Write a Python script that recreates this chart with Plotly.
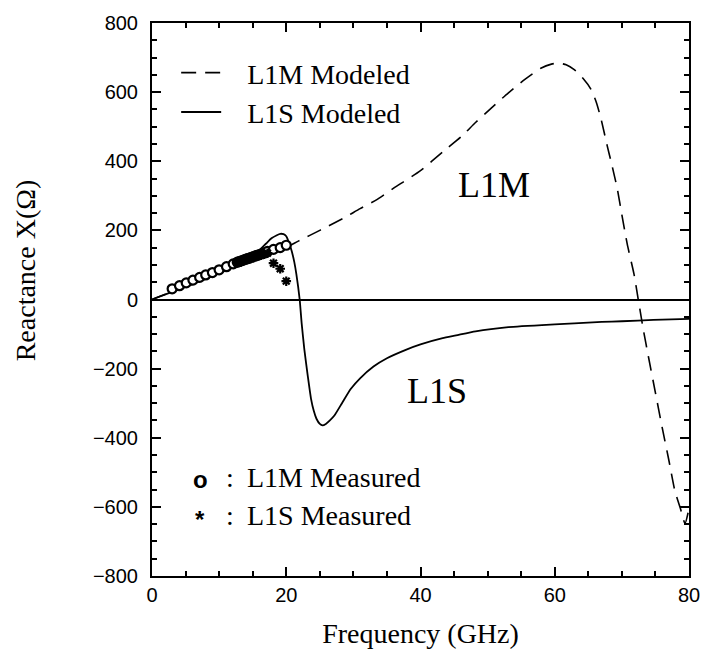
import plotly.graph_objects as go

# ---- data ----
l1m_model_f = [0, 2, 4, 6, 8, 10, 12, 14, 16, 18, 20, 21.8, 25, 28.6, 31, 33.5, 36, 40, 43.3, 46,
               48.2, 50.5, 53.1, 55.5, 58, 59.5, 60.5, 61.7, 62.9, 64.2, 65.4, 66.2, 66.9, 67.8,
               68.5, 69.3, 70.0, 70.8, 71.8, 72.5, 73.2, 74, 75, 76, 77, 77.9, 78.7, 79.4, 80]
l1m_model_x = [0, 15, 31, 46, 62, 78, 93, 108, 122, 137, 151, 169, 200, 236, 263, 289, 322, 373, 427, 470,
               512, 553, 598, 636, 670, 681, 684, 679, 665, 640, 608, 570, 522, 446,
               390, 322, 245, 160, 74, -7, -88, -170, -270, -370, -465, -554, -603, -648, -605]

l1s_model_f = [0, 3, 6, 9, 12, 14, 15, 16, 17, 17.8, 18.6, 19.1, 19.6, 20.0, 20.4, 20.8, 21.2, 21.5,
               22.0, 22.3, 22.7, 23.2, 23.7, 24.1, 24.5, 25.0, 25.4, 25.9, 26.5, 27.2, 28.3, 29.6,
               31, 33, 35, 37.9, 40, 43.3, 45.3, 48.2, 53.1, 60, 62.9, 67, 70, 74.7, 80]
l1s_model_x = [0, 22, 44, 68, 93, 112, 125, 143, 162, 177, 186, 190, 189, 183, 165, 141, 108, 74,
               0, -70, -145, -220, -288, -322, -345, -360, -364, -360, -350, -335, -300, -259,
               -228, -194, -170, -145, -130, -112, -104, -92, -80, -72, -69, -65, -63, -59, -56]

l1m_meas_f = [3, 4.1, 5.1, 6.1, 7.1, 8, 9, 10, 11.1, 12.1, 12.7, 13.0, 13.3, 13.6, 13.9, 14.2, 14.5,
              14.8, 15.1, 15.4, 15.7, 16.0, 16.3, 16.6, 16.9, 17.2, 18.1, 19.1, 20.0]
l1m_meas_x = [31, 40, 48, 56, 64, 71, 78, 86, 95, 103, 108, 110, 112, 114, 116, 118, 120,
              122, 124, 126, 128, 130, 132, 134, 136, 139, 145, 150, 157]

l1s_meas_f = [12.7, 13.2, 13.7, 14.2, 14.7, 15.2, 15.7, 16.2, 16.7, 17.2, 18.1, 19.1, 20.0]
l1s_meas_x = [106, 109, 113, 116, 119, 122, 125, 128, 131, 134, 105, 89, 53]

SERIF = "Liberation Serif, Times New Roman, serif"
SANS = "Liberation Sans, Arial, sans-serif"
TICK_COLOR = "black"

fig = go.Figure()
fig.add_trace(go.Scatter(x=l1m_model_f, y=l1m_model_x, mode="lines",
                         name="\u00a0\u00a0\u00a0L1M Modeled",
                         line=dict(color="black", width=1.6, dash="15px,9px",
                                   shape="spline", smoothing=0.6)))
fig.add_trace(go.Scatter(x=l1s_model_f, y=l1s_model_x, mode="lines",
                         name="\u00a0\u00a0\u00a0L1S Modeled",
                         line=dict(color="black", width=1.8, shape="spline", smoothing=0.5)))
fig.add_trace(go.Scatter(x=l1m_meas_f, y=l1m_meas_x, mode="markers", name="L1M Measured",
                         showlegend=False,
                         marker=dict(symbol="circle", size=9, color="white",
                                     line=dict(color="black", width=2.2))))
fig.add_trace(go.Scatter(x=l1s_meas_f, y=l1s_meas_x, mode="markers", name="L1S Measured",
                         showlegend=False,
                         marker=dict(symbol="asterisk-open", size=8, color="black",
                                     line=dict(color="black", width=2.2))))

fig.update_xaxes(range=[0, 80], dtick=20, zeroline=False,
                 showline=True, linecolor="black", linewidth=2, mirror="ticks",
                 ticks="inside", ticklen=9, tickwidth=2, tickcolor=TICK_COLOR,
                 minor=dict(dtick=5, ticks="inside", ticklen=5, tickwidth=1.6, tickcolor=TICK_COLOR),
                 showgrid=False,
                 tickfont=dict(family=SANS, size=20, color="black"),
                 title=dict(text="Frequency (GHz)", font=dict(family=SERIF, size=28, color="black"),
                            standoff=18))
fig.update_yaxes(range=[-800, 800], dtick=200,
                 showline=True, linecolor="black", linewidth=2, mirror="ticks",
                 ticks="inside", ticklen=9, tickwidth=2, tickcolor=TICK_COLOR,
                 minor=dict(dtick=50, ticks="inside", ticklen=5, tickwidth=1.6, tickcolor=TICK_COLOR),
                 showgrid=False,
                 zeroline=True, zerolinecolor="black", zerolinewidth=1.8,
                 tickfont=dict(family=SANS, size=20, color="black"), ticklabelstandoff=8)

annotations = [
    dict(x=51.0, y=331, xref="x", yref="y", text="L1M", showarrow=False,
         font=dict(family=SERIF, size=36, color="black")),
    dict(x=42.4, y=-266, xref="x", yref="y", text="L1S", showarrow=False,
         font=dict(family=SERIF, size=36, color="black")),
    dict(x=0.0735, y=0.146, xref="paper", yref="paper", text="<b>o</b>", showarrow=False,
         font=dict(family=SANS, size=24, color="black")),
    dict(x=0.134, y=0.146, xref="paper", yref="paper", text=":", showarrow=False,
         font=dict(family=SERIF, size=28, color="black")),
    dict(x=0.174, y=0.146, xref="paper", yref="paper", text="L1M Measured", showarrow=False,
         xanchor="left", font=dict(family=SERIF, size=28, color="black")),
    dict(x=0.0755, y=0.075, xref="paper", yref="paper", text="<b>*</b>", showarrow=False,
         font=dict(family=SANS, size=24, color="black")),
    dict(x=0.134, y=0.078, xref="paper", yref="paper", text=":", showarrow=False,
         font=dict(family=SERIF, size=28, color="black")),
    dict(x=0.174, y=0.078, xref="paper", yref="paper", text="L1S Measured", showarrow=False,
         xanchor="left", font=dict(family=SERIF, size=28, color="black")),
    dict(x=-0.268, y=0.552, xref="paper", yref="paper", text="Reactance X(\u03a9)",
         textangle=-90, showarrow=False, font=dict(family=SERIF, size=28, color="black")),
]

fig.update_layout(
    width=712, height=657,
    margin=dict(l=152, r=16, t=17, b=81),
    paper_bgcolor="white", plot_bgcolor="white",
    showlegend=True,
    legend=dict(x=0.045, y=0.955, xanchor="left", yanchor="top",
                bgcolor="rgba(0,0,0,0)", borderwidth=0,
                font=dict(family=SERIF, size=28, color="black"),
                tracegroupgap=0, itemwidth=40),
    annotations=annotations,
)

fig.write_html("out.html")
